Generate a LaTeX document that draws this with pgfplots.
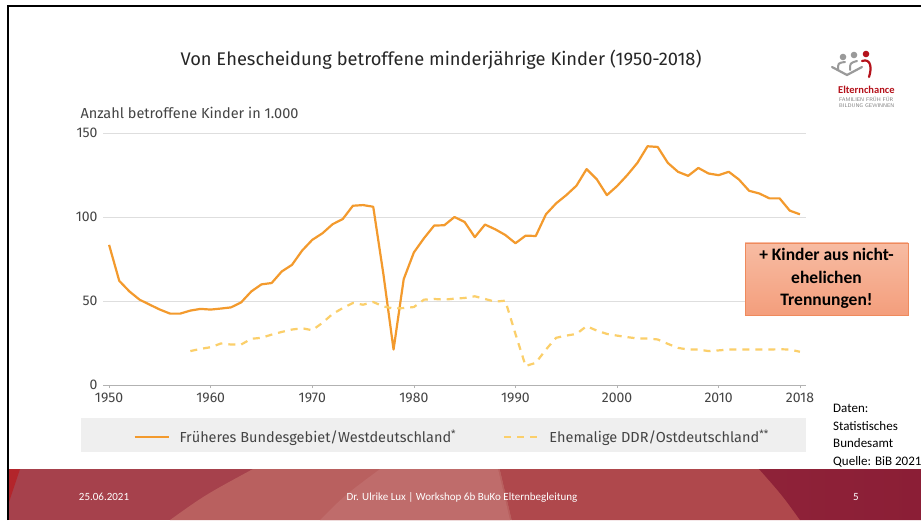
\documentclass[border=0pt]{standalone}
\usepackage{pgfplots}
\pgfplotsset{compat=1.18}
\usepackage{fontspec}
\setmainfont{Fira Sans}
\newfontfamily\calibri{Carlito}
\definecolor{west}{HTML}{F39A2D}
\definecolor{east}{HTML}{FBCF6A}
\definecolor{ticktext}{HTML}{444444}
\definecolor{gridc}{HTML}{DEDEDE}
\definecolor{legbg}{HTML}{EFEFEF}
\definecolor{boxdraw}{HTML}{EF8A5C}
\definecolor{boxtop}{HTML}{F7BCA3}
\definecolor{boxbot}{HTML}{F49E7C}
\definecolor{logored}{HTML}{B5121B}
\definecolor{logogray}{HTML}{9A9A9A}
\definecolor{fbase}{HTML}{A6414C}
\definecolor{flight}{HTML}{B9605F}
\definecolor{flighter}{HTML}{BF6C6B}
\definecolor{fmed}{HTML}{AF484C}
\definecolor{fdark}{HTML}{8B1E36}
\definecolor{fred}{HTML}{B3252B}

\pgfplotstableread{
year val
1950 83.4
1951 62
1952 55.7
1953 50.8
1954 47.8
1955 44.9
1956 42.5
1957 42.5
1958 44.3
1959 45.3
1960 44.9
1961 45.5
1962 46.2
1963 49.2
1964 55.7
1965 59.9
1966 60.7
1967 67.6
1968 71.5
1969 80
1970 86.4
1971 90.3
1972 95.7
1973 98.8
1974 106.7
1975 107.1
1976 106.1
1977 66
1978 21.1
1979 63
1980 78.9
1981 87.4
1982 94.9
1983 95.1
1984 100
1985 97
1986 88
1987 95.5
1988 92.7
1989 89.3
1990 84.4
1991 88.9
1992 88.7
1993 101.6
1994 108.1
1995 113
1996 118.6
1997 128.5
1998 122.5
1999 113
2000 118.4
2001 124.9
2002 132.2
2003 142.1
2004 141.7
2005 132.2
2006 126.9
2007 124.5
2008 129.2
2009 125.9
2010 124.9
2011 126.9
2012 122.3
2013 115.6
2014 114
2015 111.1
2016 111.1
2017 103.8
2018 101.6
}\westdata

\pgfplotstableread{
year val
1958 20.2
1959 21.5
1960 22.5
1961 24.7
1962 24.1
1963 24.1
1964 27.5
1965 28.1
1966 30
1967 31.6
1968 33
1969 33.8
1970 32.6
1971 37
1972 42.3
1973 45.8
1974 48.8
1975 47.8
1976 49.4
1977 46.8
1978 45.5
1979 45.8
1980 46.4
1981 50.8
1982 51.2
1983 50.8
1984 51.4
1985 51.8
1986 52.8
1987 51.2
1988 49.6
1989 50.2
1990 30.4
1991 11.3
1992 13.2
1993 21.1
1994 28.1
1995 29.4
1996 30.4
1997 35
1998 32.4
1999 30.4
2000 29.4
2001 28.5
2002 27.7
2003 27.7
2004 27.1
2005 24.5
2006 22.1
2007 21.1
2008 21.1
2009 20.2
2010 20.6
2011 21.1
2012 21.1
2013 21.1
2014 21.1
2015 21.1
2016 21.3
2017 21.1
2018 19.8
}\eastdata

\begin{document}
\begin{tikzpicture}[x=1pt,y=1pt]
\useasboundingbox (0,0) rectangle (921,520);
\clip (0,0) rectangle (921,520);
\fill[white] (0,0) rectangle (921,520);

% footer
\fill[fbase] (9,0) rectangle (921,51);
\fill[flight] (253,51) -- (500,51) -- (512,0) -- (170,0) .. controls (205,25) .. cycle;
\fill[flighter] (380,51) -- (498,51) -- (510,0) -- (320,0) .. controls (345,25) .. cycle;
\fill[fmed] (500,51) -- (759,51) .. controls (782,25) .. (800,0) -- (512,0) -- cycle;
\shade[left color=fdark!90!fmed, right color=fdark] (759,51) .. controls (782,25) .. (800,0) -- (921,0) -- (921,51) -- cycle;
\fill[fred] (9,51) -- (20,51) -- (9,18) -- cycle;
\node[text=white, font=\calibri\fontsize{11}{13}\selectfont] at (104,23) {25.06.2021};
\node[text=white, font=\calibri\fontsize{11}{13}\selectfont] at (462,23) {Dr. Ulrike Lux | Workshop 6b BuKo Elternbegleitung};
\node[text=white, font=\calibri\fontsize{11}{13}\selectfont] at (856,23) {5};

% frame
\draw[black, line width=2.6pt] (8,0) -- (8,514) -- (921,514);

% title
\node[font=\fontsize{18.3}{22}\selectfont, text=black!85] at (441,460) {Von Ehescheidung betroffene minderjährige Kinder (1950-2018)};
\node[anchor=west, font=\fontsize{14.5}{16}\selectfont, text=ticktext] at (77,407) {Anzahl betroffene Kinder in 1.000};

% logo
\fill[logogray] (843,463) circle (3.3);
\fill[logogray] (854,465) circle (3.3);
\fill[logored] (866,466) circle (3.3);
\draw[logogray, line width=2.2pt, line cap=round] (832,453) -- (847,445) -- (862,453);
\draw[logogray, line width=2pt, line cap=round] (838,450) .. controls (838,457) .. (845,458);
\draw[logogray, line width=2pt, line cap=round] (850,450) .. controls (850,457) .. (857,459);
\draw[logored, line width=2.2pt, line cap=round] (862,459) .. controls (871,462) and (872,452) .. (869,443);
\node[anchor=west, text=logored, font=\calibri\bfseries\fontsize{10.5}{12}\selectfont, inner sep=0] at (838,430) {Elternchance};
\node[anchor=west, text=gray, font=\sffamily\fontsize{5.3}{6}\selectfont, inner sep=0] at (839,421) {FAMILIEN FRÜH FÜR};
\node[anchor=west, text=gray, font=\sffamily\fontsize{5.3}{6}\selectfont, inner sep=0] at (839,414.5) {BILDUNG GEWINNEN};

% legend band
\fill[legbg] (81,68) rectangle (806,102);

% Daten text
\node[anchor=north west, align=left, inner sep=0, font=\calibri\fontsize{13}{17.5}\selectfont] at (833,116) {Daten:\\Statistisches\\Bundesamt\\Quelle: BiB 2021};

\begin{axis}[
  at={(103pt,135pt)}, anchor=south west,
  scale only axis, width=703pt, height=252pt,
  xmin=1949.4, xmax=2018.6, ymin=0, ymax=150,
  axis x line*=bottom, axis y line*=left,
  y axis line style={draw=none},
  x axis line style={draw=black!30, line width=0.8pt, -},
  xtick={1950,1960,1970,1980,1990,2000,2010,2018},
  xticklabels={1950,1960,1970,1980,1990,2000,2010,2018},
  ytick={0,50,100,150},
  ymajorgrids, major grid style={draw=gridc, line width=0.9pt},
  tick align=outside, major tick length=3pt,
  xtick style={draw=black!30, line width=0.6pt},
  ytick style={draw=none},
  ticklabel style={font=\fontsize{14}{14}\selectfont, text=ticktext},
  xticklabel style={yshift=-1pt},
  yticklabel style={xshift=1pt},
  /pgf/number format/assume math mode=true,
  clip=false,
  legend style={at={(0.0387,-0.206)}, anchor=west, draw=none, fill=none,
    font=\fontsize{14.5}{16}\selectfont, text=ticktext,
    /tikz/every odd column/.append style={column sep=8pt},
    /tikz/every even column/.append style={column sep=45pt}},
  legend columns=2,
  legend image code/.code={\draw[#1] (0pt,0pt) -- (34pt,0pt);},
]
\addplot[west, line width=2.2pt, line join=round] table[x=year, y=val] {\westdata};
\addlegendentry{Früheres Bundesgebiet/Westdeutschland\textsuperscript{*}}
\addplot[east, line width=2.2pt, dash pattern=on 7pt off 6pt, line join=round] table[x=year, y=val] {\eastdata};
\addlegendentry{Ehemalige DDR/Ostdeutschland\textsuperscript{**}}
\end{axis}

% annotation box
\shade[top color=boxtop, bottom color=boxbot, draw=boxdraw, line width=0.8pt] (745,205) rectangle (908,277);
\node[align=center, font=\calibri\bfseries\fontsize{17.5}{22.5}\selectfont] at (826.5,241.5) {+ Kinder aus nicht-\\ehelichen\\Trennungen!};
\end{tikzpicture}
\end{document}
